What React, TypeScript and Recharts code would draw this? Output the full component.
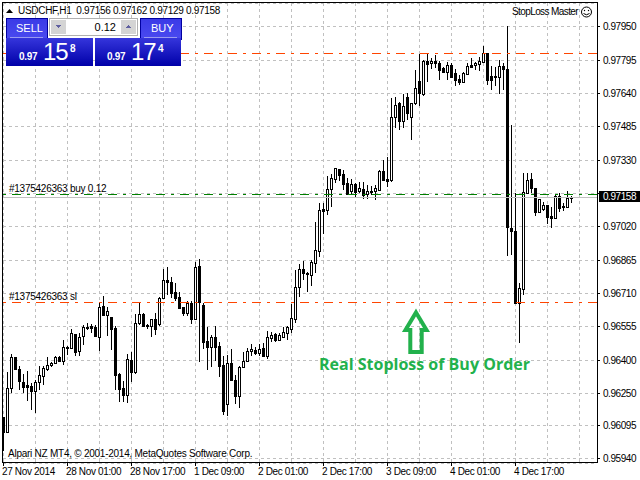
import { Bar, CartesianGrid, ComposedChart, ReferenceLine, XAxis, YAxis } from "recharts";

// hourly USDCHF prices, in points (1 point = 0.00001)
const opens = [
  96134, 96064, 96268, 96413, 96357, 96298, 96282, 96279, 96257, 96298,
  96327, 96360, 96375, 96385, 96416, 96397, 96461, 96458, 96520, 96444,
  96514, 96555, 96558, 96552, 96509, 96652, 96611, 96599, 96549, 96335,
  96270, 96239, 96400, 96344, 96574, 96614, 96565, 96558, 96591, 96568,
  96689, 96771, 96763, 96717, 96692, 96645, 96620, 96667, 96590, 96838,
  96656, 96487, 96462, 96506, 96466, 96377, 96194, 96385, 96307, 96234,
  96367, 96395, 96441, 96447, 96434, 96455, 96419, 96503, 96521, 96493,
  96509, 96528, 96546, 96593, 96739, 96822, 96805, 96797, 96853, 96909,
  97102, 97098, 97198, 97244, 97288, 97266, 97225, 97185, 97219, 97188,
  97195, 97171, 97183, 97185, 97192, 97279, 97244, 97238, 97533, 97595,
  97514, 97626, 97533, 97595, 97699, 97638, 97792, 97781, 97792, 97781,
  97759, 97741, 97772, 97735, 97709, 97695, 97731, 97772, 97772, 97779,
  97788, 97828, 97722, 97719, 97719, 97768, 97755, 97015, 97002, 96667,
  96729, 97179, 97241, 97199, 97091, 97102, 97122, 97071, 97061, 97164,
  97115, 97113, 97156,
];
const highs = [
  96134, 96346, 96428, 96416, 96372, 96335, 96349, 96292, 96307, 96372,
  96372, 96416, 96392, 96419, 96419, 96493, 96464, 96543, 96523, 96524,
  96563, 96571, 96568, 96563, 96672, 96698, 96645, 96602, 96558, 96341,
  96304, 96428, 96439, 96614, 96667, 96617, 96568, 96592, 96617, 96695,
  96822, 96831, 96785, 96760, 96717, 96648, 96673, 96676, 96858, 96869,
  96666, 96553, 96515, 96559, 96486, 96419, 96424, 96452, 96331, 96373,
  96438, 96456, 96475, 96460, 96476, 96478, 96535, 96531, 96528, 96525,
  96553, 96559, 96661, 96819, 96847, 96860, 96810, 96866, 97043, 97132,
  97132, 97257, 97266, 97292, 97288, 97285, 97246, 97244, 97225, 97229,
  97229, 97215, 97210, 97213, 97285, 97331, 97346, 97618, 97623, 97602,
  97638, 97641, 97596, 97750, 97824, 97796, 97828, 97804, 97820, 97793,
  97765, 97787, 97781, 97753, 97727, 97741, 97781, 97804, 97788, 97812,
  97862, 97830, 97770, 97765, 97796, 97784, 97955, 97494, 97178, 96760,
  97269, 97272, 97272, 97199, 97150, 97137, 97122, 97114, 97168, 97179,
  97130, 97187, 97162,
];
const lows = [
  95978, 96064, 96248, 96357, 96260, 96245, 96209, 96167, 96155, 96260,
  96284, 96350, 96369, 96382, 96392, 96377, 96423, 96453, 96422, 96416,
  96470, 96537, 96527, 96506, 96444, 96605, 96509, 96447, 96260, 96205,
  96205, 96202, 96298, 96335, 96563, 96552, 96543, 96509, 96515, 96561,
  96686, 96701, 96686, 96676, 96636, 96605, 96605, 96571, 96587, 96388,
  96453, 96351, 96367, 96397, 96323, 96145, 96141, 96303, 96196, 96176,
  96363, 96393, 96419, 96422, 96419, 96416, 96407, 96486, 96486, 96486,
  96509, 96493, 96525, 96574, 96695, 96773, 96717, 96745, 96807, 96881,
  96987, 97075, 97114, 97223, 97232, 97191, 97173, 97176, 97160, 97176,
  97151, 97151, 97170, 97142, 97188, 97235, 97207, 97229, 97479, 97474,
  97479, 97517, 97424, 97587, 97582, 97630, 97691, 97753, 97758, 97703,
  97735, 97703, 97711, 97672, 97680, 97691, 97727, 97758, 97750, 97747,
  97781, 97680, 97660, 97675, 97638, 97660, 96884, 96889, 96666, 96481,
  96703, 97175, 97179, 97067, 97089, 97095, 97033, 97018, 97060, 97089,
  97091, 97111, 97129,
];
const closes = [
  96064, 96268, 96413, 96357, 96304, 96276, 96276, 96254, 96298, 96330,
  96361, 96375, 96385, 96416, 96395, 96462, 96460, 96524, 96439, 96509,
  96552, 96549, 96549, 96512, 96645, 96611, 96627, 96546, 96333, 96267,
  96239, 96403, 96344, 96575, 96614, 96558, 96563, 96589, 96543, 96689,
  96771, 96762, 96713, 96689, 96642, 96620, 96664, 96590, 96832, 96672,
  96486, 96462, 96506, 96462, 96374, 96165, 96385, 96307, 96234, 96367,
  96395, 96441, 96450, 96434, 96453, 96419, 96506, 96515, 96493, 96515,
  96531, 96553, 96595, 96739, 96822, 96807, 96802, 96856, 96912, 97097,
  97095, 97195, 97246, 97292, 97263, 97219, 97173, 97219, 97182, 97201,
  97170, 97185, 97185, 97201, 97280, 97238, 97232, 97530, 97588, 97514,
  97582, 97551, 97595, 97665, 97644, 97792, 97778, 97792, 97781, 97750,
  97741, 97772, 97716, 97703, 97695, 97735, 97768, 97765, 97781, 97792,
  97828, 97703, 97703, 97722, 97768, 97753, 97021, 97002, 96667, 96734,
  97181, 97238, 97199, 97091, 97148, 97122, 97067, 97061, 97164, 97109,
  97117, 97153, 97158,
];

const timeLabels = [
  "27 Nov 2014", "28 Nov 01:00", "28 Nov 17:00", "1 Dec 09:00", "2 Dec 01:00",
  "2 Dec 17:00", "3 Dec 09:00", "4 Dec 01:00", "4 Dec 17:00",
];
const gridBars = [0, 8, 16, 24, 32, 40, 48, 56, 64, 72, 80, 88, 96, 104, 112, 120, 128, 136, 144];
const priceTicks = [
  0.9795, 0.97795, 0.9764, 0.97485, 0.9733, 0.97175, 0.9702,
  0.96865, 0.9671, 0.96555, 0.964, 0.96246, 0.96095, 0.9594,
];
// the 0.97175 label sits under the bid tag
const priceLabels = [
  "0.97950", "0.97795", "0.97640", "0.97485", "0.97330", "", "0.97020",
  "0.96865", "0.96710", "0.96555", "0.96400", "0.96250", "0.96095", "0.95940",
];

const stopLevel = 0.96669;
const buyLevel = 0.97172;
const targetLevel = 0.97827;
const bidLevel = 0.97158;

const table = opens.map((o, i) => ({
  bar: i,
  open: o / 1e5,
  high: highs[i] / 1e5,
  low: lows[i] / 1e5,
  close: closes[i] / 1e5,
}));

const UI_FONT = "'Liberation Sans', sans-serif";
const ORANGE = "#ff4500";
const DASH_DOT = "9 6 3 6";

function Candle(props: any) {
  const { x, y, width, height, payload } = props;
  const cx = Math.floor(x + width / 2);
  const range = payload.high - payload.low || 1;
  const yOpen = y + ((payload.high - payload.open) / range) * height;
  const yClose = y + ((payload.high - payload.close) / range) * height;
  const top = Math.round(Math.min(yOpen, yClose));
  const bottom = Math.round(Math.max(yOpen, yClose));
  const up = payload.close >= payload.open;
  return (
    <g shapeRendering="crispEdges">
      <rect x={cx} y={Math.round(y)} width={1} height={Math.max(Math.round(height), 1)} fill="#000" />
      <rect x={cx - 1} y={top} width={3} height={Math.max(bottom - top + 1, 2)} fill="#000" />
      {up && bottom - top > 1 && <rect x={cx} y={top + 1} width={1} height={bottom - top - 1} fill="#fff" />}
    </g>
  );
}

function TimeTick({ x, y, payload }: any) {
  const label = payload.value % 16 === 0 ? timeLabels[payload.value / 16] : undefined;
  if (!label) return null;
  const px = Math.floor(x);
  return (
    <g>
      <rect x={px} y={y} width={1} height={3} fill="#000" />
      <text x={px - 1} y={y + 12} fontSize={10} letterSpacing={-0.35} fontFamily={UI_FONT} fill="#000">
        {label}
      </text>
    </g>
  );
}

function PriceTick({ x, y, index }: any) {
  const py = Math.floor(y);
  return (
    <g>
      <rect x={x} y={py} width={3} height={1} fill="#000" />
      <text x={x + 6} y={py + 4} fontSize={10} letterSpacing={-0.45} fontFamily={UI_FONT} fill="#000">
        {priceLabels[index]}
      </text>
    </g>
  );
}

function BidTag({ viewBox }: any) {
  const right = viewBox.x + viewBox.width;
  const py = Math.floor(viewBox.y);
  return (
    <g>
      <rect x={right + 2} y={py - 6} width={41} height={11} fill="#000" />
      <text x={right + 6} y={py + 3} fontSize={10} letterSpacing={-0.45} fontFamily={UI_FONT} fill="#fff">
        0.97158
      </text>
    </g>
  );
}

function OrderLabel({ viewBox, text }: any) {
  return (
    <text x={viewBox.x + 6} y={viewBox.y - 2} fontSize={10} letterSpacing={-0.25} fontFamily={UI_FONT} fill="#000">
      {text}
    </text>
  );
}

function TradePanel() {
  const price = (x: number, big: string, small: string) => (
    <g fill="#fff" fontFamily={UI_FONT}>
      <text x={x} y={60} fontSize={10} fontWeight="bold" letterSpacing={-0.3}>0.97</text>
      <text x={x + 24} y={60} fontSize={24} letterSpacing={-1.2}>{big}</text>
      <text x={x + 51} y={52} fontSize={10} fontWeight="bold">{small}</text>
    </g>
  );
  return (
    <g shapeRendering="crispEdges">
      <defs>
        <linearGradient id="head" x1="0" y1="0" x2="0" y2="1">
          <stop offset="0" stopColor="#3a3ae6" />
          <stop offset="1" stopColor="#4a4af0" />
        </linearGradient>
        <linearGradient id="body" x1="0" y1="0" x2="0" y2="1">
          <stop offset="0" stopColor="#3535dc" />
          <stop offset="1" stopColor="#0000a8" />
        </linearGradient>
      </defs>
      <rect x={6} y={18} width={41} height={21} fill="url(#head)" stroke="#0000a0" />
      <rect x={140} y={18} width={41} height={21} fill="url(#head)" stroke="#0000a0" />
      <rect x={6} y={38} width={87} height={28} fill="url(#body)" />
      <rect x={95} y={38} width={86} height={28} fill="url(#body)" />
      <rect x={10} y={37} width={33} height={1} fill="#9a9af0" />
      <rect x={144} y={37} width={33} height={1} fill="#9a9af0" />
      <rect x={49.5} y={18.5} width={88} height={17} fill="#fff" stroke="#b0b0b0" />
      <rect x={51} y={20} width={15} height={14} fill="#d4d4d4" />
      <rect x={121} y={20} width={15} height={14} fill="#d4d4d4" />
      <polygon points="55,25 61,25 58,28" fill="#6060a0" />
      <polygon points="125,28 131,28 128,25" fill="#6060a0" />
      <g shapeRendering="auto">
        <text x={16} y={32} fontSize={11} fill="#fff" fontFamily={UI_FONT}>SELL</text>
        <text x={151} y={32} fontSize={11} fill="#fff" fontFamily={UI_FONT}>BUY</text>
        <text x={116} y={31} textAnchor="end" fontSize={11} fill="#000" fontFamily={UI_FONT}>0.12</text>
        {price(19, "15", "8")}
        {price(107, "17", "4")}
      </g>
    </g>
  );
}

export default function App() {
  return (
    <div style={{ position: "absolute", left: 0, top: 0, width: 640, height: 480, background: "#fff", overflow: "hidden" }}>
      <ComposedChart width={640} height={480} data={table} margin={{ top: 3, right: 0, bottom: 0, left: 3 }}>
        <CartesianGrid stroke="#c0c0c0" strokeDasharray="3 3" shapeRendering="crispEdges" />
        <XAxis
          dataKey="bar"
          type="number"
          domain={[-0.125, 148.375]}
          ticks={gridBars}
          interval={0}
          axisLine={false}
          tickLine={false}
          tickSize={0}
          tickMargin={0}
          height={17}
          tick={TimeTick}
        />
        <YAxis
          orientation="right"
          type="number"
          domain={[0.959213, 0.980616]}
          allowDataOverflow
          ticks={priceTicks}
          interval={0}
          axisLine={false}
          tickLine={false}
          tickSize={0}
          tickMargin={0}
          width={43}
          tick={PriceTick}
        />
        <ReferenceLine y={bidLevel} stroke="#c0c0c0" shapeRendering="crispEdges" label={<BidTag />} />
        <Bar dataKey={(d: any) => [d.low, d.high]} barSize={3} shape={Candle} isAnimationActive={false} />
        <ReferenceLine y={targetLevel} stroke={ORANGE} strokeDasharray={DASH_DOT} shapeRendering="crispEdges" />
        <ReferenceLine
          y={buyLevel}
          stroke="#008000"
          strokeDasharray={DASH_DOT}
          shapeRendering="crispEdges"
          label={<OrderLabel text="#1375426363 buy 0.12" />}
        />
        <ReferenceLine
          y={stopLevel}
          stroke={ORANGE}
          strokeDasharray={DASH_DOT}
          shapeRendering="crispEdges"
          label={<OrderLabel text="#1375426363 sl" />}
        />
      </ComposedChart>

      {/* frame and annotations sit on top of the chart */}
      <svg width={640} height={480} style={{ position: "absolute", left: 0, top: 0, pointerEvents: "none" }}>
        <rect x={2.5} y={2.5} width={595} height={460} fill="none" stroke="#000" shapeRendering="crispEdges" />
        <polygon points="6,13 13,13 9.5,9" fill="#000" />
        <text x={18} y={14} fontSize={10} fontFamily={UI_FONT} fill="#000" letterSpacing={-0.3} style={{ whiteSpace: "pre" }}>
          USDCHF,H1  0.97156 0.97162 0.97129 0.97158
        </text>
        <text x={512} y={15} fontSize={10} fontFamily={UI_FONT} fill="#000" letterSpacing={-0.6}>
          StopLoss Master
        </text>
        <circle cx={586.5} cy={12} r={5} fill="#fff" stroke="#000" />
        <circle cx={584.5} cy={10.5} r={0.7} fill="#000" />
        <circle cx={588.5} cy={10.5} r={0.7} fill="#000" />
        <path d="M583.5 13.5 Q586.5 16 589.5 13.5" fill="none" stroke="#000" />
        <text x={8} y={457} fontSize={10} fontFamily={UI_FONT} fill="#000" letterSpacing={-0.25}>
          Alpari NZ MT4, © 2001-2014, MetaQuotes Software Corp.
        </text>
        <TradePanel />
        <polygon
          points="416,312.5 426.5,330 421.7,330 421.7,352 410.3,352 410.3,330 405.5,330"
          fill="none"
          stroke="#22b14c"
          strokeWidth={4}
        />
        <text x={319} y={370} fontSize={16} fontWeight="bold" fontFamily="'Open Sans', sans-serif" fill="#22b14c">
          Real Stoploss of Buy Order
        </text>
      </svg>
    </div>
  );
}
